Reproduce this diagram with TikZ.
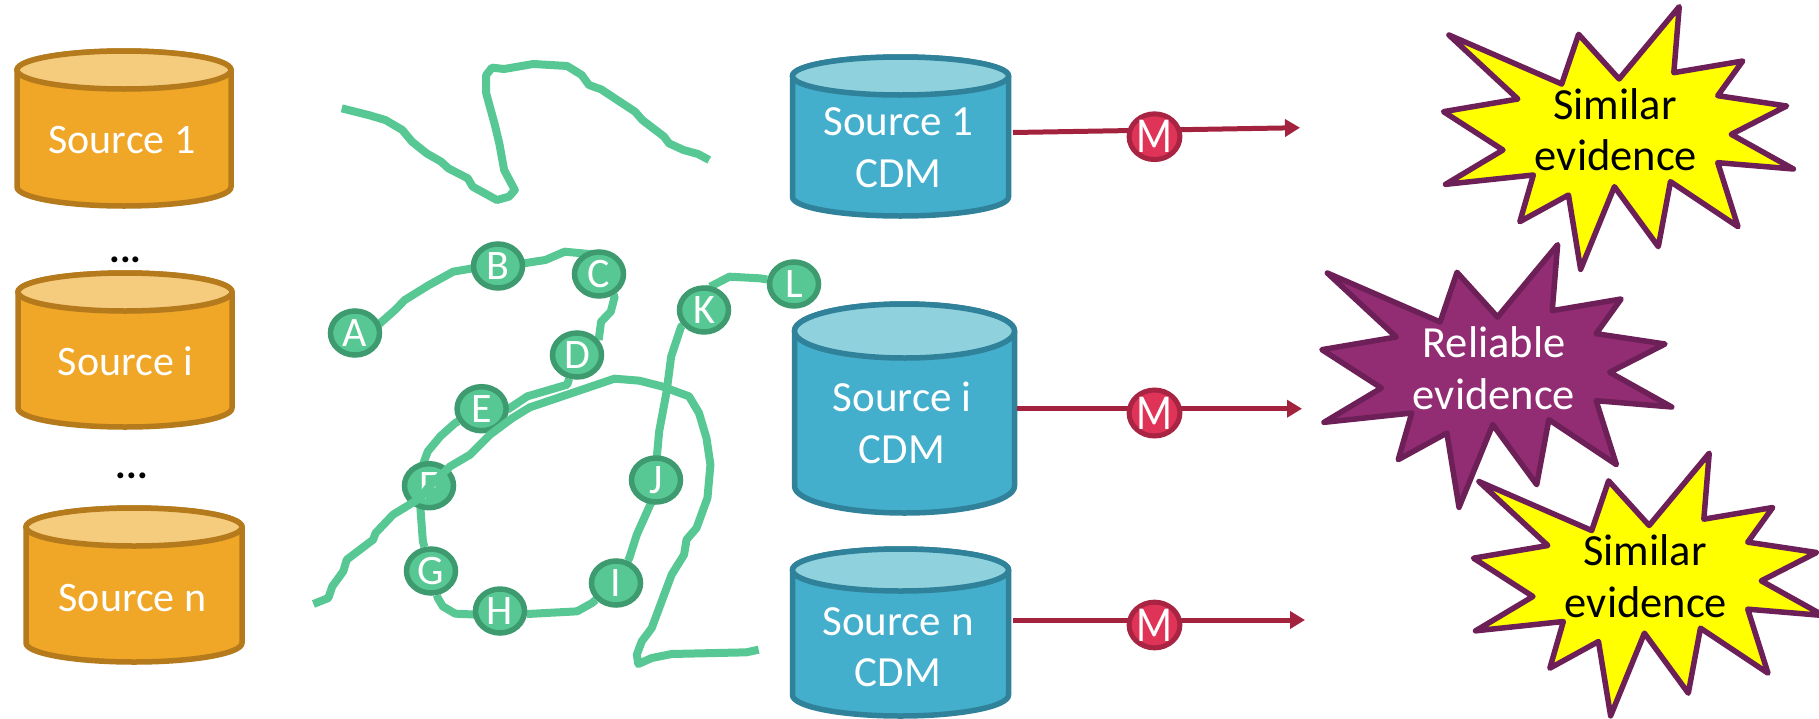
\documentclass[tikz,border=0pt]{standalone}
\usepackage{fontspec}
\usepackage{graphicx}
\setmainfont{Carlito}
\usetikzlibrary{arrows.meta,backgrounds,shapes.geometric}
\definecolor{orfill}{HTML}{F0A626}
\definecolor{ortop}{HTML}{F5CB7E}
\definecolor{orline}{HTML}{B47A1B}
\definecolor{blfill}{HTML}{44AFCC}
\definecolor{bltop}{HTML}{90D1DE}
\definecolor{blline}{HTML}{2F8299}
\definecolor{grfill}{HTML}{57C893}
\definecolor{grline}{HTML}{3E9B70}
\definecolor{mfill}{HTML}{DF3358}
\definecolor{mline}{HTML}{A92442}
\definecolor{arrowred}{HTML}{A3233F}
\definecolor{purfill}{HTML}{922D74}
\definecolor{purline}{HTML}{6D1F58}
\definecolor{burstyellow}{HTML}{FFFF00}
\newcommand{\fs}{\fontsize{42}{50}\selectfont}
\newcommand{\fb}{\fontsize{44.5}{50}\selectfont}
\newcommand{\fc}{\fontsize{43}{50}\selectfont}
% cx rx ellipse-cy ry bottom-cy fill top line
\newcommand{\tub}[8]{%
  \draw[#8,line width=5.5pt,fill=#6,line join=round]
    ({#1-#2},#3) -- ({#1-#2},#5)
    arc[start angle=180,end angle=360,x radius=#2pt,y radius=#4pt]
    -- ({#1+#2},#3)
    arc[start angle=0,end angle=180,x radius=#2pt,y radius=#4pt] -- cycle;
  \draw[#8,line width=5.5pt,fill=#7] (#1,#3) ellipse[x radius=#2pt,y radius=#4pt];
}
\newcommand{\burst}[3]{%
  \begin{scope}[shift={(#1,#2)},zone3]
    \draw[line width=5.5pt,draw=purline,fill=#3,line join=round]
      (1361,20) -- (1353,218) -- (1455,183) -- (1418,287) -- (1520,318)
      -- (1438,403) -- (1530,507) -- (1418,488) -- (1448,680) -- (1348,545)
      -- (1330,740) -- (1265,560) -- (1215,808) -- (1197,585) -- (1125,665)
      -- (1145,525) -- (1015,553) -- (1100,450) -- (1012,335) -- (1122,297)
      -- (1020,105) -- (1187,252) -- (1212,103) -- (1272,237) -- cycle;
  \end{scope}
}
\tikzset{
  zone1/.style={x=0.48474pt,y=-0.33333pt},
  zone2/.style={shift={(0,358)},x=0.49749pt,y=-0.33333pt},
  zone3/.style={shift={(760,0)},x=0.6754pt,y=-0.33333pt},
  label/.style={anchor=base,inner sep=0pt,align=center,font=\fs},
  wlabel/.style={label,text=white},
  blabel/.style={label,text=black},
  gnode/.style={ellipse,draw=grline,fill=grfill,line width=5.5pt,minimum width=49pt,minimum height=44pt,inner sep=0pt,text=white,font=\fs},
  mnode/.style={ellipse,draw=mline,fill=mfill,line width=5pt,minimum width=46pt,minimum height=43pt,inner sep=0pt,text=white,font=\fs},
  squig/.style={draw=grfill,line width=8pt,line join=round,
    preaction={draw=black!30,opacity=.4,transform canvas={shift={(1pt,-3pt)}}}},
  link/.style={draw=arrowred,line width=5pt,-{Triangle[length=15pt,width=17pt]}},
}
\newcommand{\tallM}{\scalebox{1}[1.2]{M}}
\begin{document}
\begin{tikzpicture}[x=1pt,y=-1pt]
\useasboundingbox (0,0) rectangle (1819,718);

% source cylinders
\tub{124}{107}{70}{19}{187}{orfill}{ortop}{orline}
\tub{125}{107}{292}{19}{408}{orfill}{ortop}{orline}
\tub{134}{108}{527}{19}{643}{orfill}{ortop}{orline}
\node[wlabel] (s1) at (122,153) {Source 1};
\node[wlabel] (si) at (125.5,375) {Source i};
\node[wlabel] (sn) at (132.5,611) {Source n};
\node[blabel,font=\fontsize{40}{44}\selectfont\bfseries] (d1) at (125.5,262) {...};
\node[blabel,font=\fontsize{40}{44}\selectfont\bfseries] (d2) at (132,478) {...};

% CDM cylinders
\tub{900.5}{108}{76}{19}{197}{blfill}{bltop}{blline}
\tub{904.5}{110}{331}{27}{486}{blfill}{bltop}{blline}
\tub{900.5}{108}{570}{21}{695}{blfill}{bltop}{blline}
\node[wlabel,font=\fc] (c1) at (898.5,135) {Source 1};
\node[wlabel,font=\fc] (c1b) at (898.5,187) {CDM};
\node[wlabel,font=\fc] (ci) at (902,411) {Source i};
\node[wlabel,font=\fc] (cib) at (902,463) {CDM};
\node[wlabel,font=\fc] (cn) at (898,635) {Source n};
\node[wlabel,font=\fc] (cnb) at (898,686) {CDM};

% arrows
\coordinate (a1) at (1013,132.5);
\coordinate (t1) at (1300,127.7);
\coordinate (a2) at (1017,408.7);
\coordinate (t2) at (1302,408.7);
\coordinate (a3) at (1013,620);
\coordinate (t3) at (1305,620);
\draw[link] (a1) -- (t1);
\draw[link] (a2) -- (t2);
\draw[link] (a3) -- (t3);
\node[mnode] (m1) at (1154.5,136.7) {\tallM};
\node[mnode,minimum height=46pt] (m2) at (1154.5,413) {\tallM};
\node[mnode] (m3) at (1154.5,625) {\tallM};

% bursts
\burst{0}{0}{burstyellow}
\burst{-121.6}{238}{purfill}
\burst{30}{446.5}{burstyellow}
\node[blabel,font=\fb] (b1a) at (1615,119) {Similar};
\node[blabel,font=\fb] (b1b) at (1616,170) {evidence};
\node[wlabel,font=\fb] (b2a) at (1494,357) {Reliable};
\node[wlabel,font=\fb] (b2b) at (1494,409) {evidence};
\node[blabel,font=\fb] (b3a) at (1645,565) {Similar};
\node[blabel,font=\fb] (b3b) at (1646,617) {evidence};

% graph nodes
\node[gnode] (A) at (355,333) {A};
\node[gnode] (B) at (498,266) {B};
\node[gnode] (C) at (599,274) {C};
\node[gnode] (D) at (577,355) {D};
\node[gnode] (E) at (481.6,408.7) {E};
\node[gnode] (F) at (429,485.7) {F};
\node[gnode] (G) at (431,571) {G};
\node[gnode] (H) at (500,611) {H};
\node[gnode] (I) at (616,583) {I};
\node[gnode] (J) at (656,480) {J};
\node[gnode] (K) at (704,310) {K};
\node[gnode] (L) at (794,284) {L};

% connectors under the nodes
\begin{pgfonlayer}{background}
\begin{scope}[zone1]
  \draw[squig] (A) -- (780,975) -- (815,930) -- (835,900) -- (885,855) -- (935,815) -- (975,805) -- (B);
  \draw[squig] (B) -- (1080,790) -- (1125,780) -- (1165,755) -- (1215,762) -- (C);
  \draw[squig] (C) -- (1268,890) -- (1260,935) -- (1240,965) -- (1235,1020) -- (D);
  \draw[squig] (K) -- (1465,860) -- (1505,830) -- (1568,835) -- (L);
\end{scope}
\begin{scope}[zone2]
  \draw[squig] (D) -- (1140,80) -- (1060,115) -- (1020,155) -- (E);
  \draw[squig] (E) -- (915,195) -- (885,235) -- (860,280) -- (850,320) -- (F);
  \draw[squig] (F) -- (845,450) -- (850,550) -- (G);
  \draw[squig] (G) -- (880,720) -- (890,745) -- (915,767) -- (960,770) -- (H);
  \draw[squig] (H) -- (1060,768) -- (1160,760) -- (1190,735) -- (I);
  \draw[squig] (I) -- (1265,600) -- (1280,530) -- (1310,430) -- (J);
  \draw[squig] (J) -- (1320,300) -- (1325,220) -- (1340,100) -- (1349,-4) -- (1369,-94) -- (K);
\end{scope}
\end{pgfonlayer}

% free strokes
\begin{scope}[zone1]
  \coordinate (p1) at (705,325);
  \coordinate (p2) at (1463,480);
  \draw[squig] (p1) -- (760,345) -- (795,360) -- (830,390) -- (850,425) -- (880,460) -- (910,485) -- (925,505) -- (965,535) -- (975,560) -- (1000,580) -- (1025,600) -- (1050,590) -- (1062,570) -- (1040,510) -- (1030,430) -- (1020,370) -- (1003,280) -- (1003,225) -- (1015,203) -- (1040,207) -- (1100,192) -- (1170,198) -- (1200,225) -- (1215,255) -- (1240,268) -- (1310,335) -- (1325,360) -- (1370,410) -- (1380,430) -- (1410,450) -- (1440,462) -- (p2);
\end{scope}
\begin{scope}[zone2]
  \coordinate (q1) at (630,738);
  \coordinate (q2) at (1525,875);
  \draw[squig] (q1) -- (660,720) -- (668,685) -- (690,640) -- (697,605) -- (750,545) -- (755,525) -- (790,470) -- (845,420) -- (860,390) -- (880,360) -- (905,325) -- (945,290) -- (985,230) -- (1030,180) -- (1065,148) -- (1150,105) -- (1235,62) -- (1285,68) -- (1330,85) -- (1385,115) -- (1405,165) -- (1420,240) -- (1428,320) -- (1422,420) -- (1400,510) -- (1380,545) -- (1375,590) -- (1350,650) -- (1330,730) -- (1310,810) -- (1290,850) -- (1280,890) -- (1283,918) -- (1310,900) -- (1350,888) -- (1500,883) -- (q2);
\end{scope}
\end{tikzpicture}
\end{document}
